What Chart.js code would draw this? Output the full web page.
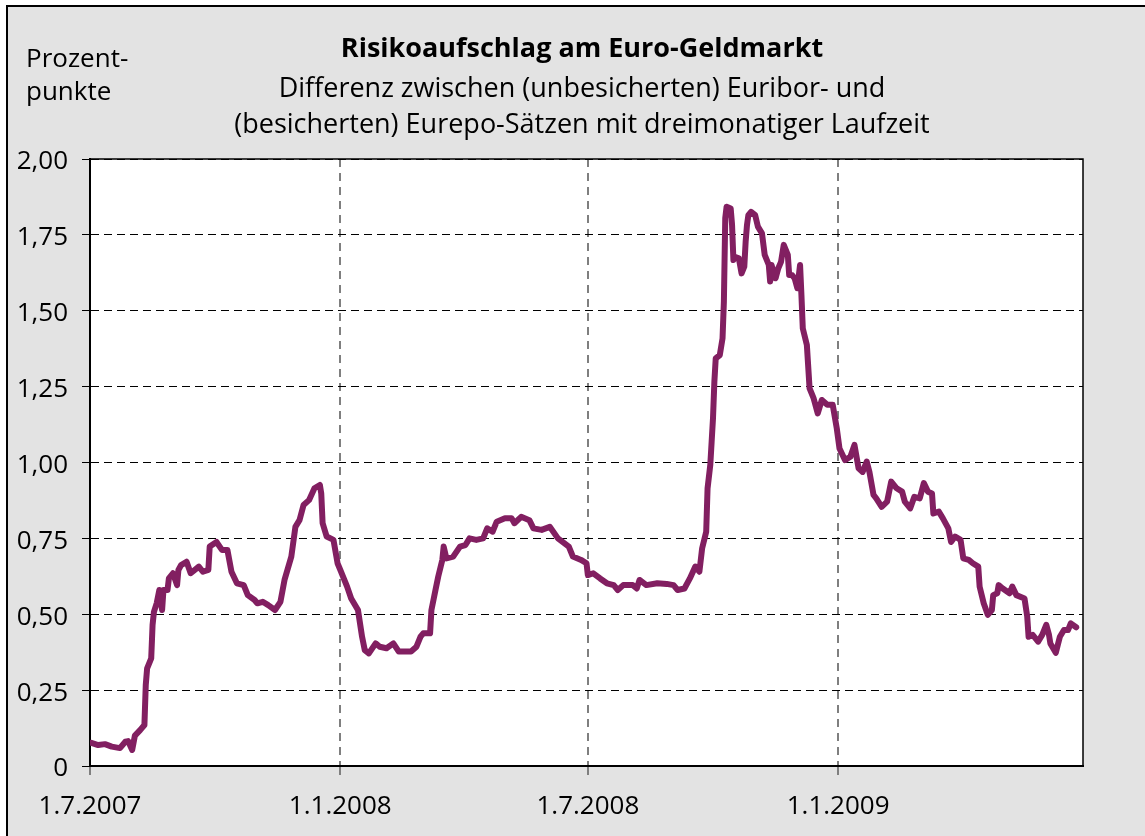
<!DOCTYPE html>
<html lang="de">
<head>
<meta charset="utf-8">
<title>Risikoaufschlag am Euro-Geldmarkt</title>
<script src="https://cdn.jsdelivr.net/npm/chart.js@4/dist/chart.umd.min.js"></script>
<style>
  html, body { margin: 0; padding: 0; background: #fff; }
  body { width: 1145px; height: 836px; position: relative; overflow: hidden; font-family: "Open Sans", sans-serif; color: #000; }
  #frame { position: absolute; left: 6px; top: 5px; width: 1160px; height: 860px; background: #e3e3e3; border: 2px solid #000; }
  #wrap { position: absolute; left: 0; top: 0; width: 1145px; height: 836px; }
  .txt { position: absolute; font-size: 26px; line-height: 26px; white-space: nowrap; }
  .ctr { left: 0; width: 1164px; text-align: center; font-size: 27px; line-height: 27px; }
</style>
</head>
<body>
<div id="frame"></div>
<div id="wrap"><canvas id="chart-spread"></canvas></div>
<div class="txt" style="left:26px; top:44px;">Prozent-</div>
<div class="txt" style="left:26px; top:77px;">punkte</div>
<div class="txt ctr" style="top:33px; font-weight:700;">Risikoaufschlag am Euro-Geldmarkt</div>
<div class="txt ctr" style="top:73px;">Differenz zwischen (unbesicherten) Euribor- und</div>
<div class="txt ctr" style="top:109px;">(besicherten) Eurepo-Sätzen mit dreimonatiger Laufzeit</div>
<script>
// Tage seit 1.7.2007
const days = [
  1, 6, 11, 16, 22, 26, 28, 31, 33, 37, 40, 41, 42, 45, 46, 47, 49, 51, 53, 54,
  57, 58, 61, 64, 65, 67, 71, 74, 80, 83, 87, 88, 93, 97, 101, 104, 108, 113, 116, 121,
  123, 127, 131, 136, 140, 143, 148, 151, 154, 157, 161, 165, 169, 170, 171, 174, 179, 182, 184, 189,
  192, 197, 200, 202, 205, 210, 213, 218, 223, 227, 232, 236, 240, 243, 245, 250, 251, 254, 256, 259,
  260, 262, 267, 272, 276, 279, 284, 289, 292, 296, 299, 305, 310, 312, 317, 323, 326, 332, 338, 344,
  352, 355, 361, 365, 366, 370, 375, 380, 385, 388, 392, 399, 402, 404, 409, 417, 424, 429, 432, 437,
  441, 445, 448, 450, 453, 454, 456, 457, 458, 459, 460, 463, 465, 466, 467, 468, 471, 472, 473, 474,
  477, 479, 481, 482, 483, 484, 486, 489, 491, 494, 496, 499, 500, 501, 504, 506, 508, 510, 513, 514,
  516, 518, 520, 522, 523, 524, 527, 529, 532, 535, 538, 542, 546, 549, 551, 555, 559, 562, 565, 568,
  571, 573, 576, 578, 582, 586, 589, 593, 597, 599, 603, 606, 610, 613, 616, 619, 620, 624, 627, 631,
  633, 636, 640, 642, 646, 649, 653, 654, 657, 660, 663, 664, 667, 668, 671, 676, 678, 681, 687, 689,
  690, 693, 697, 700, 703, 705, 706, 710, 713, 716, 719, 721, 725
];
// Prozentpunkte
const spread = [
  0.076, 0.069, 0.072, 0.064, 0.059, 0.080, 0.082, 0.053, 0.100, 0.119, 0.135, 0.267, 0.322, 0.355, 0.465, 0.508, 0.536, 0.580, 0.514, 0.580,
  0.580, 0.618, 0.635, 0.596, 0.646, 0.662, 0.673, 0.635, 0.657, 0.640, 0.646, 0.723, 0.738, 0.712, 0.712, 0.640, 0.602, 0.596, 0.563, 0.547,
  0.536, 0.541, 0.530, 0.514, 0.541, 0.613, 0.690, 0.788, 0.810, 0.860, 0.876, 0.915, 0.926, 0.898, 0.800, 0.756, 0.745, 0.668, 0.646, 0.591,
  0.552, 0.514, 0.426, 0.382, 0.371, 0.404, 0.393, 0.388, 0.404, 0.377, 0.377, 0.377, 0.393, 0.426, 0.437, 0.437, 0.514, 0.580, 0.624, 0.679,
  0.723, 0.684, 0.690, 0.723, 0.728, 0.750, 0.745, 0.750, 0.783, 0.772, 0.805, 0.816, 0.816, 0.800, 0.821, 0.810, 0.783, 0.778, 0.788, 0.750,
  0.723, 0.690, 0.679, 0.668, 0.629, 0.635, 0.618, 0.602, 0.596, 0.580, 0.596, 0.596, 0.585, 0.613, 0.596, 0.602, 0.600, 0.596, 0.580, 0.585,
  0.618, 0.657, 0.640, 0.717, 0.772, 0.915, 0.992, 1.069, 1.146, 1.266, 1.343, 1.354, 1.409, 1.530, 1.805, 1.843, 1.837, 1.783, 1.667, 1.678,
  1.673, 1.623, 1.645, 1.728, 1.783, 1.815, 1.826, 1.815, 1.777, 1.755, 1.684, 1.651, 1.596, 1.651, 1.607, 1.640, 1.661, 1.717, 1.684, 1.618,
  1.618, 1.607, 1.574, 1.651, 1.552, 1.442, 1.387, 1.244, 1.211, 1.162, 1.206, 1.190, 1.190, 1.112, 1.046, 1.008, 1.019, 1.058, 0.981, 0.969,
  1.003, 0.969, 0.893, 0.882, 0.854, 0.871, 0.937, 0.915, 0.904, 0.871, 0.849, 0.887, 0.882, 0.932, 0.904, 0.898, 0.832, 0.838, 0.816, 0.783,
  0.738, 0.756, 0.745, 0.684, 0.679, 0.668, 0.657, 0.591, 0.536, 0.498, 0.514, 0.563, 0.569, 0.596, 0.585, 0.569, 0.591, 0.563, 0.552, 0.492,
  0.426, 0.432, 0.410, 0.432, 0.465, 0.432, 0.404, 0.373, 0.426, 0.448, 0.448, 0.470, 0.457
];

const tickDays = [0, 184, 366, 550];
const tickLabels = ['1.7.2007', '1.1.2008', '1.7.2008', '1.1.2009'];

const plotBox = {
  id: 'plotBox',
  beforeDraw(chart) {
    const { ctx, chartArea: a } = chart;
    ctx.save();
    ctx.fillStyle = '#fff';
    ctx.fillRect(a.left, a.top, a.right - a.left, a.bottom - a.top);
    ctx.restore();
  },
  beforeDatasetsDraw(chart) {
    const { ctx, chartArea: a } = chart;
    ctx.save();
    ctx.strokeStyle = '#000';
    ctx.lineWidth = 1.5;
    ctx.beginPath();
    ctx.moveTo(a.left, a.top);
    ctx.lineTo(a.right, a.top);
    ctx.lineTo(a.right, a.bottom);
    ctx.stroke();
    ctx.restore();
  }
};

const points = days.map((d, i) => ({ x: d, y: spread[i] }));

new Chart(document.getElementById('chart-spread'), {
  type: 'line',
  data: {
    datasets: [{
      data: points,
      borderColor: '#821f61',
      borderWidth: 6,
      pointRadius: 0,
      tension: 0,
      borderJoinStyle: 'round',
      borderCapStyle: 'round'
    }]
  },
  options: {
    responsive: true,
    maintainAspectRatio: false,
    animation: false,
    layout: { padding: { top: 159, right: 62, bottom: 20, left: 0 } },
    plugins: { legend: { display: false }, tooltip: { enabled: false } },
    scales: {
      x: {
        type: 'linear',
        min: 0,
        max: 730,
        afterBuildTicks: s => { s.ticks = tickDays.map(v => ({ value: v })); },
        afterFit: s => { s.height = 50; },
        ticks: {
          autoSkip: false,
          maxRotation: 0,
          padding: 16,
          color: '#000',
          font: { family: 'Open Sans', size: 26 },
          callback: (v) => tickLabels[tickDays.indexOf(v)]
        },
        grid: {
          color: c => (c.tick && c.tick.value === 0) ? 'rgba(0,0,0,0)' : '#7f7f7f',
          lineWidth: 2,
          tickLength: 9,
          tickColor: '#7f7f7f',
          tickWidth: 2,
          tickBorderDash: [8, 6]
        },
        border: { color: '#000', width: 2, dash: [8, 6] }
      },
      y: {
        min: 0,
        max: 2,
        afterFit: s => { s.width = 90; },
        ticks: {
          stepSize: 0.25,
          padding: 14,
          labelOffset: 3,
          color: '#000',
          font: { family: 'Open Sans', size: 26 },
          callback: v => v === 0 ? '0' : v.toFixed(2).replace('.', ',')
        },
        grid: {
          color: '#000',
          lineWidth: 1,
          tickLength: 8,
          tickColor: '#000',
          tickWidth: 1,
          tickBorderDash: []
        },
        border: { color: '#000', width: 2, dash: [8, 5] }
      }
    }
  },
  plugins: [plotBox]
});
</script>
</body>
</html>
